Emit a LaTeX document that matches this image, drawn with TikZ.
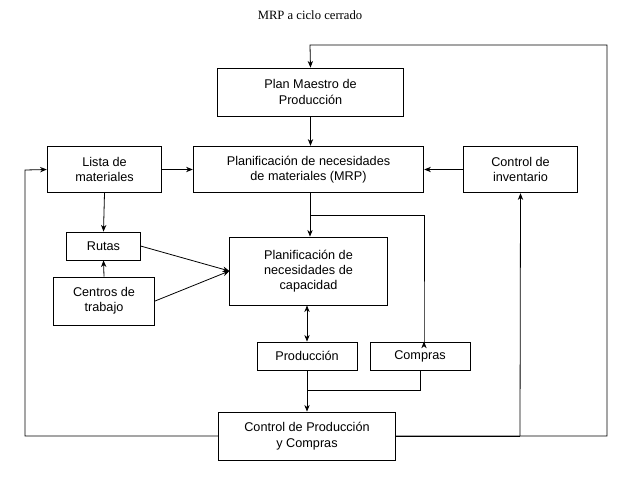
\documentclass[tikz,border=0pt]{standalone}
\usepackage{fontspec}
\setmainfont{Liberation Sans}
\newfontfamily\serifttl{Liberation Serif}
\usetikzlibrary{arrows.meta}
\begin{document}
\begin{tikzpicture}[x=0.75pt,y=-0.75pt,
  bx/.style={draw,line width=0.6pt,align=center,font=\fontsize{9.5}{11.5}\selectfont,inner sep=1pt},
  ln/.style={line width=0.6pt,-{Stealth[length=5pt,width=4pt]}},
  pl/.style={line width=0.6pt}]
\useasboundingbox (0,0) rectangle (640,476);
\node[font=\serifttl\fontsize{9.5}{11}\selectfont] (title) at (310,15) {MRP a ciclo cerrado};
\node[bx,minimum width=139pt,minimum height=36pt] (pm) at (310.5,92) {Plan Maestro de\\Producción};
\node[bx,minimum width=86pt,minimum height=35pt] (lm) at (104.5,169.5) {Lista de\\materiales};
\node[bx,minimum width=173pt,minimum height=35pt] (mrp) at (308.5,169.5) {Planificación de necesidades\\de materiales (MRP)};
\node[bx,minimum width=86pt,minimum height=35pt] (ci) at (520.5,169.5) {Control de\\inventario};
\node[bx,minimum width=55pt,minimum height=21pt] (ru) at (103.5,246) {Rutas};
\node[bx,minimum width=118pt,minimum height=51pt] (cap) at (308.5,271) {Planificación de\\necesidades de\\capacidad};
\node[bx,minimum width=76pt,minimum height=36pt] (ct) at (104,301) {Centros de\\trabajo};
\node[bx,minimum width=75pt,minimum height=21pt] (pr) at (307,356) {Producción};
\node[bx,minimum width=75pt,minimum height=21pt] (co) at (420,356) {Compras};
\node[bx,minimum width=133pt,minimum height=36pt] (cpc) at (307,436) {Control de Producción\\y Compras};
\coordinate (j1) at (310,215);
\coordinate (j2) at (310,390);
\coordinate (r1) at (520,436);
% connectors
\draw[ln] (cpc.east) -- (607,436) -- (607,45) -- (310,45) -- (pm.north);
\draw[pl] (cpc.east) -- (r1);
\draw[ln] (r1) -- (ci.south);
\draw[ln] (pm.south) -- (pm.south|-mrp.north);
\draw[ln] (lm.east) -- (mrp.west);
\draw[ln] (ci.west) -- (mrp.west-|mrp.east);
\draw[ln] (j1|-mrp.south) -- (j1|-cap.north);
\draw[ln] (j1) -- (424,215) -- (424,346) -- (co.north-|424,0);
\draw[ln] (lm.south) -- (ru.north);
\draw[ln] (ct.north) -- (ru.south);
\draw[ln] (ru.east) -- (cap.west);
\draw[ln] (ct.east) -- (cap.west);
\draw[line width=0.6pt,{Stealth[length=5pt,width=4pt]}-{Stealth[length=5pt,width=4pt]}] (cap.south-|pr.north) -- (pr.north);
\draw[pl] (pr.south) -- (pr.south|-j2) -- (co.south|-j2) -- (co.south);
\draw[ln] (pr.south|-j2) -- (cpc.north);
\draw[ln] (cpc.west) -- (25,436) -- (25,170) -- (lm.west);
\end{tikzpicture}
\end{document}
